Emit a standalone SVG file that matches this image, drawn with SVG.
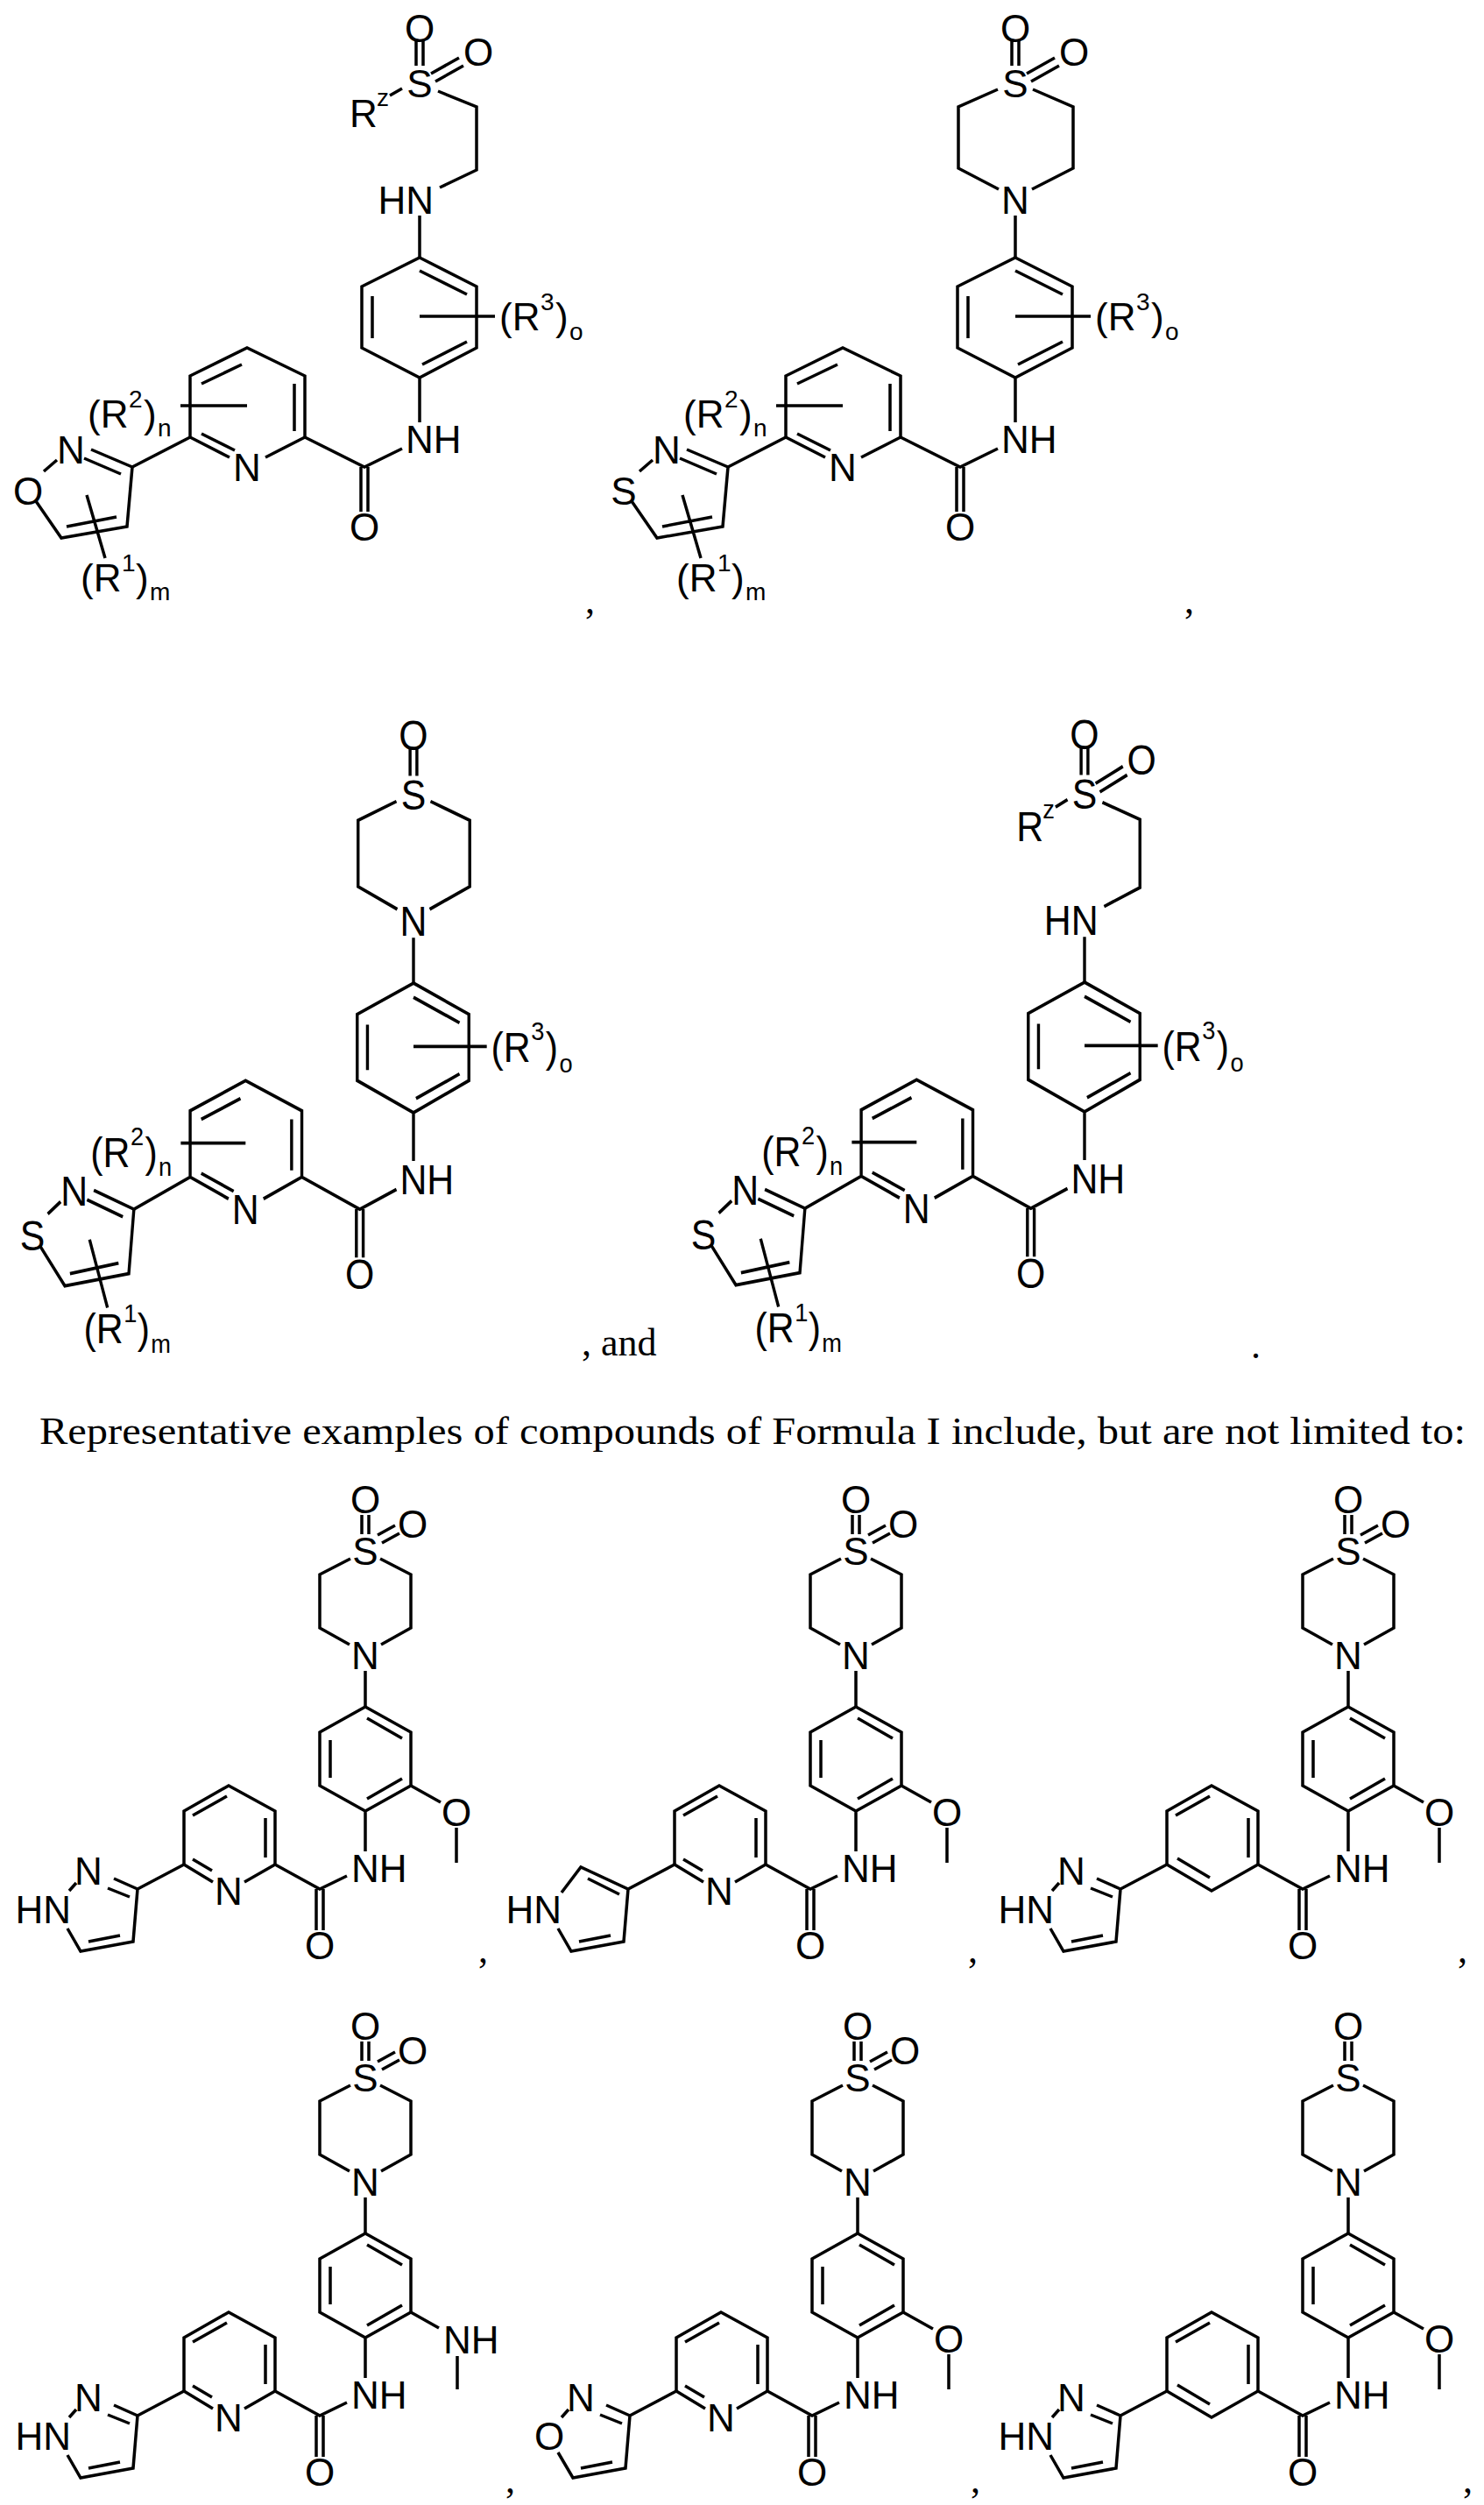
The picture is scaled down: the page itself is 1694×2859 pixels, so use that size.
<svg xmlns="http://www.w3.org/2000/svg" xmlns:xlink="http://www.w3.org/1999/xlink" width="1694" height="2859" viewBox="0 0 1694 2859">
<style>
.b{stroke:#000;stroke-width:3.5;fill:none;stroke-linecap:butt}
.t{font-family:"Liberation Sans",Arial,sans-serif;font-size:44px;fill:#000}
.m{text-anchor:middle}
.e{text-anchor:end}
.s{font-family:"Liberation Sans",Arial,sans-serif;font-size:28px;fill:#000}
.r{font-family:"Liberation Serif","Times New Roman",serif;font-size:44px;fill:#000}
</style>
<defs>
<g id="core">
<path class="b" d="M479,294 L544,327 L544,397 L479,431 L413,397 L413,327 Z M479,309 L533,336 M533,390 L482,416 M425,338 L425,386 M479,361 L565,361 M479,431 L479,482 M459,512 L416,533 L348,499 L348,429 L282,397 L217,429 L217,499 L262,522 M303,522 L348,499 M336,438 L336,492 M230,438 L276,416 M230,495 L268,514 M412,533 L412,584 M420,533 L420,584 M206,463 L282,463 M217,499 L151,533"/>
<text class="t" x="570" y="377">(R</text><text class="s" x="617" y="354">3</text><text class="t" x="634" y="377">)</text><text class="s" x="650" y="388">o</text>
<text class="t" x="463" y="517">NH</text>
<text class="t m" x="416" y="617">O</text>
<text class="t m" x="282" y="549">N</text>
<text class="t" x="100" y="488">(R</text><text class="s" x="147" y="465">2</text><text class="t" x="164" y="488">)</text><text class="s" x="180" y="498">n</text>
</g>
<g id="het5">
<path class="b" d="M151,533 L104,513 M138,541 L96,523 M65,525 L50,538 M41,572 L70,614 L145,601 L151,533 M76,601 L133,590 M99,565 L120,637"/>
<text class="t m" x="81" y="529">N</text>
<text class="t" x="92" y="675">(R</text><text class="s" x="139" y="652">1</text><text class="t" x="155" y="675">)</text><text class="s" x="171" y="685">m</text>
</g>
<g id="sulf">
<path class="b" d="M475,46 L475,75 M483,46 L483,75 M492,84 L524,66 M497,93 L529,75 M445,109 L459,101 M500,104 L544,122 L544,194 L502,214 M479,246 L479,294"/>
<text class="t m" x="479" y="48">O</text>
<text class="t m" x="546" y="75">O</text>
<text class="t m" x="479" y="111">S</text>
<text class="t" x="399" y="145">R</text><text class="s" x="430" y="121">z</text>
<text class="t e" x="495" y="244">HN</text>
</g>
<g id="tmring">
<path class="b" d="M475,46 L475,75 M483,46 L483,75 M459,102 L414,122 L414,192 L460,216 M498,216 L545,192 L545,122 L499,102 M479,246 L479,294"/>
<text class="t m" x="479" y="48">O</text>
<text class="t m" x="479" y="111">S</text>
<text class="t m" x="479" y="244">N</text>
</g>
<g id="o2">
<path class="b" d="M492,84 L524,66 M497,93 L529,75"/>
<text class="t m" x="546" y="75">O</text>
</g>
<g id="bRing">
<path class="b" d="M413,1729 L413,1751 M421,1729 L421,1751 M400,1779 L365,1797 L365,1858 L399,1877 M435,1877 L469,1858 L469,1797 L434,1779 M417,1907 L417,1948"/>
<text class="t m" x="417" y="1727">O</text>
<text class="t m" x="417" y="1786">S</text>
<text class="t m" x="417" y="1905">N</text>
</g>
<g id="bO2">
<path class="b" d="M431,1752 L451,1741 M436,1761 L456,1750"/>
<text class="t m" x="471" y="1755">O</text>
</g>
<g id="bBenz">
<path class="b" d="M417,1948 L469,1977 L469,2038 L417,2067 L365,2038 L365,1977 Z M419,1961 L459,1984 M459,2030 L419,2053 M377,1986 L377,2029 M417,2067 L417,2113 M396,2141 L365,2156 L314,2128 L314,2067 L261,2038 L210,2067 L210,2128 M303,2075 L303,2120 M220,2072 L259,2050 M361,2156 L361,2203 M369,2156 L369,2203"/>
<text class="t" x="401" y="2148">NH</text>
<text class="t m" x="365" y="2236">O</text>
</g>
<g id="bOMe">
<path class="b" d="M469,2038 L503,2057 M521,2086 L521,2126"/>
<text class="t m" x="521" y="2084">O</text>
</g>
<g id="bNHMe">
<path class="b" d="M469,2038 L501,2056 M522,2088 L522,2126"/>
<text class="t" x="506" y="2085">NH</text>
</g>
<g id="bPyN">
<path class="b" d="M210,2128 L243,2148 M279,2148 L314,2128 M220,2122 L242,2135"/>
<text class="t m" x="261" y="2174">N</text>
</g>
<g id="bPhC">
<path class="b" d="M210,2128 L261,2158 L314,2128 M222,2121 L259,2143"/>
</g>
<g id="bPyz">
<path class="b" d="M210,2128 L157,2156 M157,2156 L130,2144 M148,2165 L123,2155 M87,2149 L79,2158 M77,2201 L92,2227 L152,2216 L157,2156 M101,2216 L137,2209"/>
<text class="t m" x="101" y="2151">N</text>
<text class="t e" x="81" y="2195">HN</text>
</g>
<g id="bPyr">
<path class="b" d="M210,2128 L157,2156 L103,2131 L81,2160 M111,2144 L147,2162 M77,2201 L92,2227 L152,2216 L157,2156 M101,2216 L137,2209"/>
<text class="t e" x="81" y="2195">HN</text>
</g>
<g id="bIsox">
<path class="b" d="M210,2128 L157,2156 M157,2156 L130,2144 M148,2165 L123,2155 M87,2149 L79,2158 M75,2198 L92,2227 L152,2216 L157,2156 M101,2216 L137,2209"/>
<text class="t m" x="101" y="2151">N</text>
<text class="t m" x="65" y="2195">O</text>
</g>
</defs>

<g id="formula1">
<use xlink:href="#core"/><use xlink:href="#het5"/><use xlink:href="#sulf"/>
<text class="t m" x="32" y="576">O</text>
</g>
<g id="formula2" transform="translate(680,0)">
<use xlink:href="#core"/><use xlink:href="#het5"/><use xlink:href="#tmring"/><use xlink:href="#o2"/>
<text class="t m" x="32" y="576">S</text>
</g>
<g id="formula3" transform="translate(472,1122) scale(0.973,1.08) translate(-479,-294)">
<use xlink:href="#core"/><use xlink:href="#het5"/><use xlink:href="#tmring"/>
<text class="t m" x="32" y="576">S</text>
</g>
<g id="formula4" transform="translate(1238,1121) scale(0.973,1.08) translate(-479,-294)">
<use xlink:href="#core"/><use xlink:href="#het5"/><use xlink:href="#sulf"/>
<text class="t m" x="32" y="576">S</text>
</g>

<g id="exA"><use xlink:href="#bRing"/><use xlink:href="#bO2"/><use xlink:href="#bBenz"/><use xlink:href="#bOMe"/><use xlink:href="#bPyN"/><use xlink:href="#bPyz"/></g>
<g id="exB" transform="translate(560,0)"><use xlink:href="#bRing"/><use xlink:href="#bO2"/><use xlink:href="#bBenz"/><use xlink:href="#bOMe"/><use xlink:href="#bPyN"/><use xlink:href="#bPyr"/></g>
<g id="exC" transform="translate(1122,0)"><use xlink:href="#bRing"/><use xlink:href="#bO2"/><use xlink:href="#bBenz"/><use xlink:href="#bOMe"/><use xlink:href="#bPhC"/><use xlink:href="#bPyz"/></g>
<g id="exD" transform="translate(0,601)"><use xlink:href="#bRing"/><use xlink:href="#bO2"/><use xlink:href="#bBenz"/><use xlink:href="#bNHMe"/><use xlink:href="#bPyN"/><use xlink:href="#bPyz"/></g>
<g id="exE" transform="translate(562,601)"><use xlink:href="#bRing"/><use xlink:href="#bO2"/><use xlink:href="#bBenz"/><use xlink:href="#bOMe"/><use xlink:href="#bPyN"/><use xlink:href="#bIsox"/></g>
<g id="exF" transform="translate(1122,601)"><use xlink:href="#bRing"/><use xlink:href="#bBenz"/><use xlink:href="#bOMe"/><use xlink:href="#bPhC"/><use xlink:href="#bPyz"/></g>

<g id="punct">
<text class="r" x="668" y="700">,</text>
<text class="r" x="1352" y="700">,</text>
<text class="r" x="664" y="1547">, and</text>
<text class="r" x="1428" y="1550">.</text>
<text class="r" x="45" y="1648" textLength="1628" lengthAdjust="spacingAndGlyphs">Representative examples of compounds of Formula I include, but are not limited to:</text>
<text class="r" x="546" y="2240">,</text>
<text class="r" x="1105" y="2240">,</text>
<text class="r" x="1664" y="2240">,</text>
<text class="r" x="577" y="2845">,</text>
<text class="r" x="1108" y="2845">,</text>
<text class="r" x="1670" y="2845">,</text>
</g>
</svg>
